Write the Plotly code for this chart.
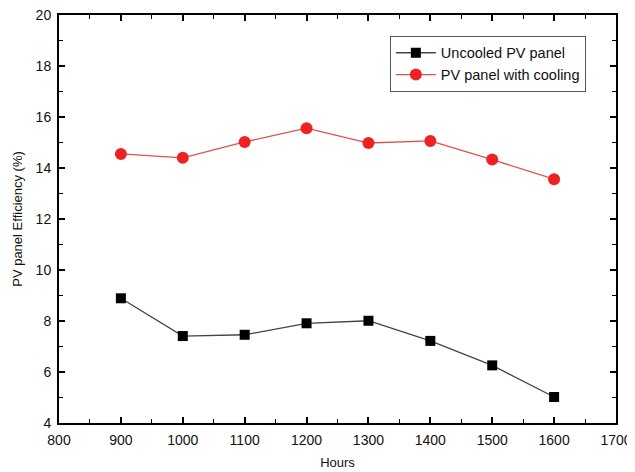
import plotly.graph_objects as go

hours = [900, 1000, 1100, 1200, 1300, 1400, 1500, 1600]
uncooled = [8.89, 7.41, 7.46, 7.91, 8.01, 7.22, 6.26, 5.02]
cooled = [14.55, 14.40, 15.02, 15.56, 14.98, 15.06, 14.33, 13.56]

font = "Liberation Sans, Arial, sans-serif"

fig = go.Figure()
fig.add_trace(go.Scatter(
    x=hours, y=uncooled, mode="lines+markers", name="Uncooled PV panel",
    line=dict(color="#444444", width=1.3),
    marker=dict(symbol="square", size=10, color="black"),
))
fig.add_trace(go.Scatter(
    x=hours, y=cooled, mode="lines+markers", name="PV panel with cooling",
    line=dict(color="#e05050", width=1.3),
    marker=dict(symbol="circle", size=12, color="#ee2222"),
))

axis_common = dict(
    showline=True, linecolor="black", linewidth=2, mirror="ticks",
    ticks="inside", ticklen=6, tickwidth=1.5, tickcolor="black",
    showgrid=False, zeroline=False, automargin=False,
    ticklabeloverflow="allow",
    tickfont=dict(family=font, size=14, color="#111111"),
)

fig.update_xaxes(
    range=[800, 1700], dtick=100, tick0=800, ticklabelstandoff=3,
    minor=dict(ticks="inside", ticklen=4, dtick=50, tickcolor="black", tickwidth=1.2),
    title=dict(text="Hours", font=dict(family=font, size=13, color="#111111"), standoff=11),
    **axis_common,
)
fig.update_yaxes(
    range=[4, 20], dtick=2, tick0=4, ticklabelstandoff=3,
    minor=dict(ticks="inside", ticklen=4, dtick=1, tickcolor="black", tickwidth=1.2),
    title=dict(text="PV panel Efficiency (%)", font=dict(family=font, size=13, color="#111111"), standoff=10),
    **axis_common,
)

# page body has an 8px default margin, so compensate in size/margins
fig.update_layout(
    width=627, height=464,
    margin=dict(l=51, r=19, t=7, b=49),
    plot_bgcolor="white", paper_bgcolor="white",
    legend=dict(
        x=0.594, y=0.949, xanchor="left", yanchor="top",
        bordercolor="#555555", borderwidth=1, bgcolor="white",
        font=dict(family=font, size=14.5, color="#111111"),
        tracegroupgap=0, itemwidth=40,
    ),
)

fig.write_html("out.html")
